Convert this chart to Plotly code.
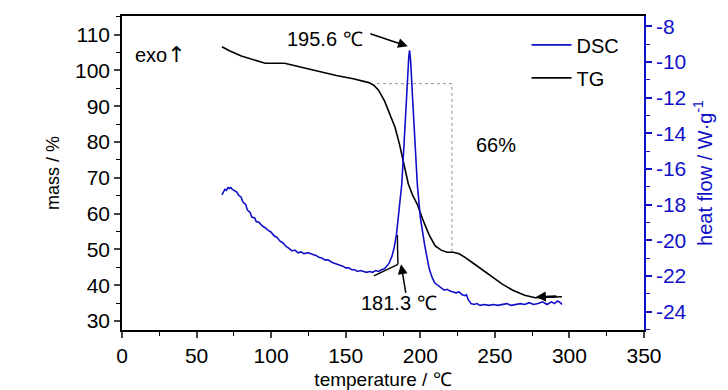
import plotly.graph_objects as go

# ---- data ----
tg_temp = [67, 72, 80, 88, 96, 109, 120, 130, 143.7, 155, 165.5, 169, 172, 176, 180, 183, 186, 189,
           192, 195, 198, 202, 206, 210, 214, 218, 222, 226, 230, 236, 242, 248, 255, 262, 270, 277, 285, 295]
tg_mass = [106.6, 105.5, 104.0, 102.9, 102.0, 102.0, 100.9, 100.0, 98.6, 97.7, 96.6, 95.8, 94.5, 91.5,
           87.5, 84.2, 79.5, 74.0, 68.3, 65.0, 62.6, 58.0, 54.0, 51.0, 49.8, 49.2, 49.2, 48.8, 47.8, 46.0,
           44.2, 42.3, 40.3, 38.6, 37.2, 36.5, 36.6, 36.8]

dsc_temp = [67, 68, 69, 70, 71, 72, 73, 74, 75, 77, 78, 80, 81, 83, 84, 86, 87, 89, 90, 92, 94, 96, 98, 100,
            102, 104, 106, 108, 110, 112, 114, 116, 118, 120, 122, 125, 128, 130, 132, 134, 136, 138, 141,
            143, 146, 148, 150, 152, 154, 156, 158, 160, 162, 164, 166, 168, 170, 172, 174, 176, 177, 179,
            181, 182.5, 184, 185.5, 187.6, 189.5, 191, 192.3, 192.8, 193.5, 195, 196.5, 198, 200, 203, 206,
            208, 209.8, 212, 214, 216, 218, 220, 222, 224, 226, 228, 230, 231, 232, 233, 234, 236, 238, 240,
            243, 246, 249, 252, 255, 258, 261, 264, 267, 270, 273, 276, 279, 282, 285, 288, 290, 292, 294, 295]
dsc_hf = [-17.45, -17.3, -17.15, -17.2, -17.05, -17.1, -17.05, -17.15, -17.2, -17.3, -17.45, -17.6, -17.85,
          -18.0, -18.3, -18.45, -18.7, -18.75, -18.95, -19.0, -19.2, -19.3, -19.45, -19.55, -19.75, -19.85,
          -20.05, -20.15, -20.35, -20.45, -20.6, -20.55, -20.7, -20.65, -20.75, -20.7, -20.8, -20.85, -20.95,
          -21.0, -21.1, -21.1, -21.25, -21.3, -21.4, -21.45, -21.55, -21.55, -21.65, -21.65, -21.75, -21.7,
          -21.75, -21.8, -21.75, -21.8, -21.7, -21.75, -21.65, -21.6, -21.5, -21.3, -20.9, -20.4, -19.7,
          -18.5, -16.85, -14.0, -11.5, -9.7, -9.35, -9.9, -12.3, -14.8, -16.85, -18.7, -20.3, -21.6, -22.1,
          -22.4, -22.55, -22.7, -22.8, -22.75, -22.85, -22.9, -22.95, -22.9, -23.05, -23.1, -23.05, -23.3,
          -23.45, -23.55, -23.6, -23.55, -23.65, -23.6, -23.65, -23.6, -23.65, -23.6, -23.55, -23.65, -23.6,
          -23.55, -23.6, -23.5, -23.6, -23.55, -23.45, -23.6, -23.45, -23.55, -23.4, -23.5, -23.6]

# onset construction (heat flow axis)
onset_base_x = [168.9, 185.0]
onset_base_y = [-22.0, -21.35]
onset_steep_x = [185.0, 184.6]
onset_steep_y = [-21.35, -19.7]

# mass-loss step guide (mass axis)
step_x = [171, 221.2, 221.2]
step_y = [96.3, 96.3, 49.2]

# labels
peak_label = "195.6 ℃"
peak_pt = (191.6, -9.13)
peak_text_pos = (136, 108.9)
onset_label = "181.3 ℃"
onset_pt = (187.1, -21.35)
onset_text_pos = (186, 35.0)
loss_label = "66%"
loss_pos = (250.7, 79.1)
tg_end_pt = (277.5, 36.7)

x_ticks = [0, 50, 100, 150, 200, 250, 300, 350]
y_ticks = [30, 40, 50, 60, 70, 80, 90, 100, 110]
y2_ticks = [-8, -10, -12, -14, -16, -18, -20, -22, -24]

BLUE = "#1010C8"
FONT = "Liberation Sans, Arial, sans-serif"

fig = go.Figure()
fig.add_trace(go.Scatter(x=step_x, y=step_y, mode="lines", line=dict(color="#909090", width=1, dash="dot"),
                         showlegend=False, hoverinfo="skip"))
fig.add_trace(go.Scatter(x=tg_temp, y=tg_mass, mode="lines", name="TG", line=dict(color="black", width=1.6),
                         legendrank=2, legendgroup="b"))
fig.add_trace(go.Scatter(x=onset_base_x, y=onset_base_y, yaxis="y2", mode="lines",
                         line=dict(color="black", width=1.4), showlegend=False))
fig.add_trace(go.Scatter(x=onset_steep_x, y=onset_steep_y, yaxis="y2", mode="lines",
                         line=dict(color="black", width=1.4), showlegend=False))
fig.add_trace(go.Scatter(x=dsc_temp, y=dsc_hf, yaxis="y2", mode="lines", name="DSC",
                         line=dict(color=BLUE, width=1.6), legendrank=1, legendgroup="a"))

fig.add_annotation(x=peak_pt[0], y=peak_pt[1], xref="x", yref="y2", text="", showarrow=True,
                   ax=-39, ay=-13, arrowhead=2, arrowsize=1.3, arrowwidth=1.5, arrowcolor="black")
fig.add_annotation(x=peak_text_pos[0], y=peak_text_pos[1], xref="x", yref="y", text=peak_label,
                   showarrow=False, font=dict(size=20, color="black", family=FONT))
fig.add_annotation(x=onset_pt[0], y=onset_pt[1], xref="x", yref="y2", text="", showarrow=True,
                   ax=5, ay=30, arrowhead=2, arrowsize=1.3, arrowwidth=1.5, arrowcolor="black")
fig.add_annotation(x=onset_text_pos[0], y=onset_text_pos[1], xref="x", yref="y", text=onset_label,
                   showarrow=False, font=dict(size=20, color="black", family=FONT))
fig.add_annotation(x=tg_end_pt[0], y=tg_end_pt[1], xref="x", yref="y", text="", showarrow=True,
                   ax=22, ay=-1, arrowhead=2, arrowsize=1.0, arrowwidth=2, arrowcolor="black")
fig.add_annotation(x=loss_pos[0], y=loss_pos[1], xref="x", yref="y", text=loss_label, showarrow=False,
                   font=dict(size=20, color="black", family=FONT))
fig.add_annotation(x=0.022, y=0.925, xref="paper", yref="paper",
                   text="exo<span style='font-family:DejaVu Sans; font-size:22px'>↑</span>",
                   showarrow=False, xanchor="left", font=dict(size=20, color="black", family=FONT))

tick_font = dict(size=21, color="black", family=FONT)
# the page body adds an 8px offset, so the figure is 8px smaller and the margins shifted
fig.update_layout(
    width=720, height=382,
    margin=dict(l=114, r=84, t=8, b=60, autoexpand=False),
    paper_bgcolor="white", plot_bgcolor="white",
    font=dict(family=FONT, color="black"),
    xaxis=dict(range=[0, 350], tickvals=x_ticks, ticks="outside", ticklen=6, tickwidth=1.5, automargin=False,
               showline=True, linecolor="black", linewidth=1.5, mirror=True, showgrid=False, zeroline=False,
               tickfont=tick_font,
               title=dict(text="temperature / ℃", font=dict(size=19, color="black", family=FONT), standoff=7),
               minor=dict(dtick=25, ticks="outside", ticklen=4, tickwidth=1.2, tickcolor="black")),
    yaxis=dict(range=[27.5, 115.2], tickvals=y_ticks, ticks="outside", ticklen=6, tickwidth=1.5, automargin=False,
               showline=True, linecolor="black", linewidth=1.5, showgrid=False, zeroline=False,
               tickfont=tick_font,
               title=dict(text="mass / %", font=dict(size=18, color="black", family=FONT), standoff=11),
               minor=dict(dtick=5, ticks="outside", ticklen=4, tickwidth=1.2, tickcolor="black")),
    yaxis2=dict(range=[-25.03, -7.43], overlaying="y", side="right", tickvals=y2_ticks, automargin=False,
                ticktext=[str(v) for v in y2_ticks], ticks="outside", ticklen=6, tickwidth=1.5,
                tickcolor=BLUE, showline=True, linecolor=BLUE, linewidth=1.5, showgrid=False, zeroline=False,
                tickfont=dict(size=21, color=BLUE, family=FONT),
                title=dict(text="heat flow / W·g<sup>-1</sup>", font=dict(size=20, color=BLUE, family=FONT),
                           standoff=12),
                minor=dict(dtick=1, ticks="outside", ticklen=4, tickwidth=1.2, tickcolor=BLUE)),
    legend=dict(x=0.775, y=0.97, xanchor="left", yanchor="top", bgcolor="rgba(0,0,0,0)",
                font=dict(size=20, color="black", family=FONT), itemwidth=40,
                traceorder="grouped", tracegroupgap=4),
    showlegend=True,
)

fig.write_html("out.html")
